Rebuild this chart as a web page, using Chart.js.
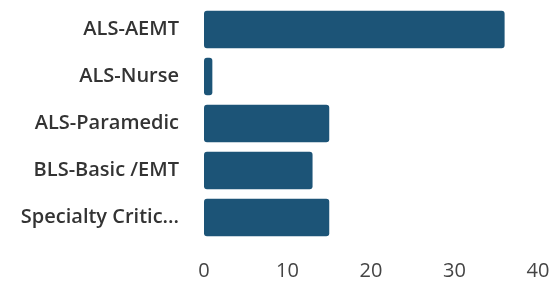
<!DOCTYPE html>
<html>
<head>
<meta charset="utf-8">
<script src="https://cdn.jsdelivr.net/npm/chart.js@4/dist/chart.umd.min.js"></script>
<style>
html,body{margin:0;padding:0;background:#fff;overflow:hidden;}
canvas{display:block;}
</style>
</head>
<body>
<canvas id="c" width="550" height="282"></canvas>
<script>
const categories = ["ALS-AEMT", "ALS-Nurse", "ALS-Paramedic", "BLS-Basic /EMT", "Specialty Critic..."];
const counts = [36, 1, 15, 13, 15];
const xTicks = [0, 10, 20, 30, 40];

new Chart(document.getElementById('c'), {
  type: 'bar',
  data: {
    labels: categories,
    datasets: [{
      data: counts,
      backgroundColor: '#1c5477',
      borderRadius: 3,
      borderSkipped: false,
      categoryPercentage: 0.8,
      barPercentage: 1.0
    }]
  },
  options: {
    indexAxis: 'y',
    responsive: false,
    maintainAspectRatio: false,
    animation: false,
    devicePixelRatio: 1,
    layout: { padding: { top: 6, right: 12, bottom: 0, left: 0 } },
    plugins: { legend: { display: false }, tooltip: { enabled: false } },
    scales: {
      x: {
        min: 0, max: 40,
        afterBuildTicks: (axis) => { axis.ticks = xTicks.map(v => ({ value: v })); },
        afterFit: (axis) => { axis.paddingLeft = 0; axis.paddingRight = 0; axis.height = 41; },
        grid: { display: false, drawTicks: false },
        border: { display: false },
        ticks: { color: '#444', font: { family: 'Open Sans', size: 20 }, padding: 18 }
      },
      y: {
        afterFit: (axis) => { axis.paddingTop = 0; axis.paddingBottom = 0; axis.width = 204; },
        grid: { display: false, drawTicks: false },
        border: { display: false },
        ticks: { color: '#333', font: { family: 'Open Sans', size: 20, weight: '600' }, padding: 25 }
      }
    }
  }
});
</script>
</body>
</html>
